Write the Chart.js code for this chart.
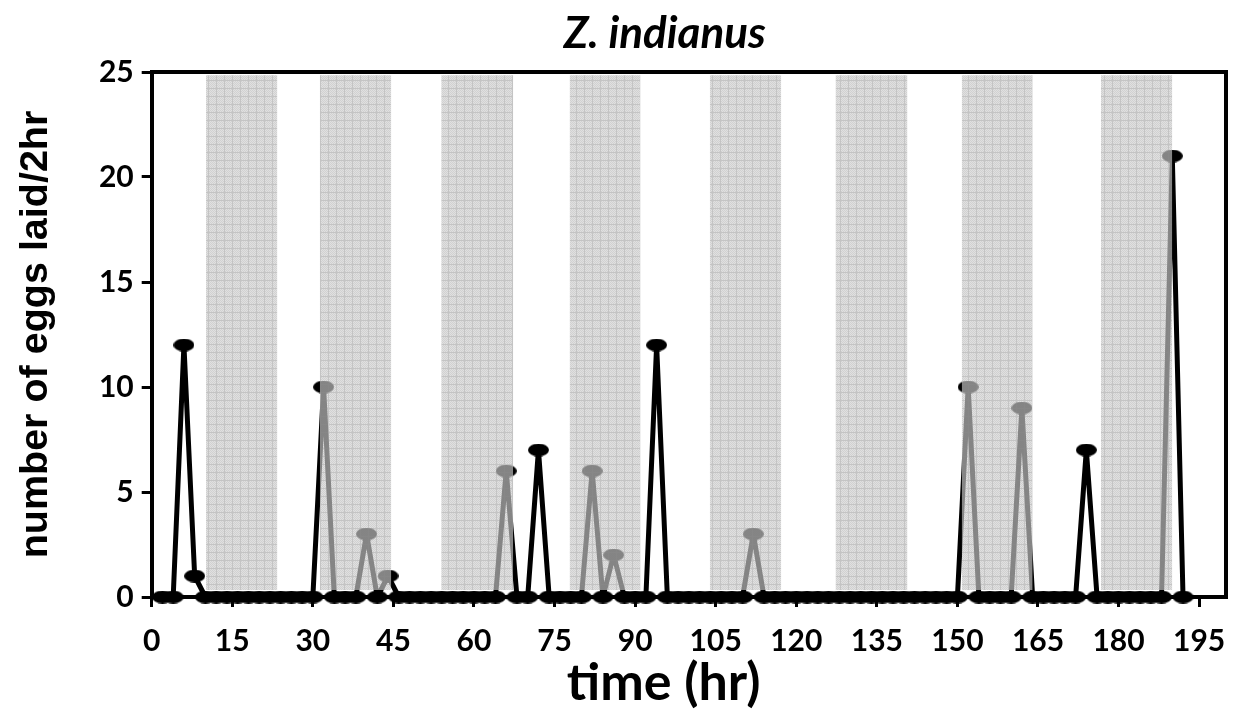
<!DOCTYPE html>
<html><head><meta charset="utf-8">
<script src="https://cdn.jsdelivr.net/npm/chart.js@4.4.1/dist/chart.umd.min.js"></script>
<style>html,body{margin:0;padding:0;background:#fff;}#wrap{width:1247px;height:719px;}</style>
</head><body><div id="wrap"><canvas id="c" width="1247" height="719"></canvas></div>
<script>
// ---- data ----
const hours = [2,4,6,8,10,12,14,16,18,20,
  22,24,26,28,30,32,34,36,38,40,
  42,44,46,48,50,52,54,56,58,60,
  62,64,66,68,70,72,74,76,78,80,
  82,84,86,88,90,92,94,96,98,100,
  102,104,106,108,110,112,114,116,118,120,
  122,124,126,128,130,132,134,136,138,140,
  142,144,146,148,150,152,154,156,158,160,
  162,164,166,168,170,172,174,176,178,180,
  182,184,186,188,190,192];
const eggs = [0,0,12,1,0,0,0,0,0,0,
  0,0,0,0,0,10,0,0,0,3,
  0,1,0,0,0,0,0,0,0,0,
  0,0,6,0,0,7,0,0,0,0,
  6,0,2,0,0,0,12,0,0,0,
  0,0,0,0,0,3,0,0,0,0,
  0,0,0,0,0,0,0,0,0,0,
  0,0,0,0,0,10,0,0,0,0,
  9,0,0,0,0,0,7,0,0,0,
  0,0,0,0,21,0];
const darkStarts = [10.1, 31.3, 53.9, 77.8, 103.9, 127.3, 150.8, 176.7];
const darkEnds   = [23.4, 44.6, 67.3, 91.0, 117.2, 140.7, 164.0, 190.0];
const xTickValues = [0,15,30,45,60,75,90,105,120,135,150,165,180,195];
const yTickValues = [0,5,10,15,20,25];
const bandTop = 24.85, bandBottom = 0.33;

// ---- styles ----
const canvas = document.getElementById('c');
const ctx = canvas.getContext('2d');
function makeHatch(){
  const c = document.createElement('canvas'); c.width = 8; c.height = 8;
  const g = c.getContext('2d');
  const img = g.createImageData(8,8);
  for (let y=0;y<8;y++) for (let x=0;x<8;x++){
    const i=(y*8+x)*4; let v=206, a=0.64;
    if ((x+y)%2===0){v=190;a=0.70;}
    if (x===0||y===0){v=178;a=0.76;}
    img.data[i]=v; img.data[i+1]=v; img.data[i+2]=v; img.data[i+3]=Math.round(a*255);
  }
  g.putImageData(img,0,0);
  return ctx.createPattern(c,'repeat');
}
function makeEllipse(w,h){
  const c=document.createElement('canvas'); c.width=w; c.height=h;
  const g=c.getContext('2d'); g.fillStyle='#000';
  g.beginPath(); g.ellipse(w/2,h/2,w/2,h/2,0,0,Math.PI*2); g.fill();
  return c;
}
const hatch = makeHatch();
const marker = makeEllipse(21,13);
const tickFont = {family:'Lato', size:30, weight:'bold'};
const NB = '\u00A0';

const datasets = [{
  label:'eggs',
  data: hours.map((h,i)=>({x:h, y:eggs[i]})),
  borderColor:'#000', borderWidth:5, borderJoinStyle:'round', borderCapStyle:'round',
  pointStyle: marker, pointRadius:10, pointBackgroundColor:'#000', pointBorderWidth:0,
  tension:0, clip:false, order:1
}];
darkStarts.forEach((s,i)=>{
  datasets.push({
    label:'dark'+i,
    data:[{x:s,y:bandTop},{x:darkEnds[i],y:bandTop}],
    borderWidth:0, borderColor:'rgba(0,0,0,0)', pointRadius:0,
    fill:{value:bandBottom}, backgroundColor:hatch, order:0
  });
});

new Chart(ctx, {
  type:'line',
  data:{datasets},
  options:{
    responsive:false, animation:false, devicePixelRatio:1,
    events:[],
    layout:{padding:{left:0,right:21,top:0,bottom:0}},
    plugins:{
      legend:{display:false}, tooltip:{enabled:false},
      title:{display:true, fullSize:false, text:'Z. indianus'+NB.repeat(5), color:'#000',
        font:{family:'Lato', size:44, weight:'bold', style:'italic'},
        padding:{top:7,bottom:12.2}}
    },
    scales:{
      x:{type:'linear', position:'bottom', min:0, max:200,
        afterBuildTicks:s=>{s.ticks = xTickValues.map(v=>({value:v}));},
        afterFit:s=>{s.height = 122;},
        grid:{display:true, drawOnChartArea:false, drawTicks:true, tickLength:10, lineWidth:3, color:'#000'},
        border:{display:true, width:4, color:'#000'},
        ticks:{font:tickFont, color:'#000', padding:16, maxRotation:0, autoSkip:false},
        title:{display:true, text:'time (hr)'+NB.repeat(4), color:'#000',
          font:{family:'Lato', size:52, weight:'bold'}, padding:{top:0,bottom:4.8}}
      },
      y:{type:'linear', position:'left', min:0, max:25,
        afterBuildTicks:s=>{s.ticks = yTickValues.map(v=>({value:v}));},
        afterFit:s=>{s.width = 151.7;},
        grid:{display:true, drawOnChartArea:false, drawTicks:true, tickLength:10, lineWidth:3, color:'#000'},
        border:{display:true, width:4, color:'#000'},
        ticks:{font:tickFont, color:'#000', padding:8},
        title:{display:true, text:'number of eggs laid/2hr', color:'#000',
          font:{family:'Liberation Sans', size:39.5, weight:'bold'}, padding:{top:12.3,bottom:0}}
      },
      x2:{type:'linear', position:'top', min:0, max:200,
        ticks:{display:false}, grid:{display:true, drawOnChartArea:false, drawTicks:false},
        border:{display:true, width:4, color:'#000'}},
      y2:{type:'linear', position:'right', min:0, max:25,
        ticks:{display:false}, grid:{display:true, drawOnChartArea:false, drawTicks:false},
        border:{display:true, width:4, color:'#000'}}
    }
  }
});
</script></body></html>
